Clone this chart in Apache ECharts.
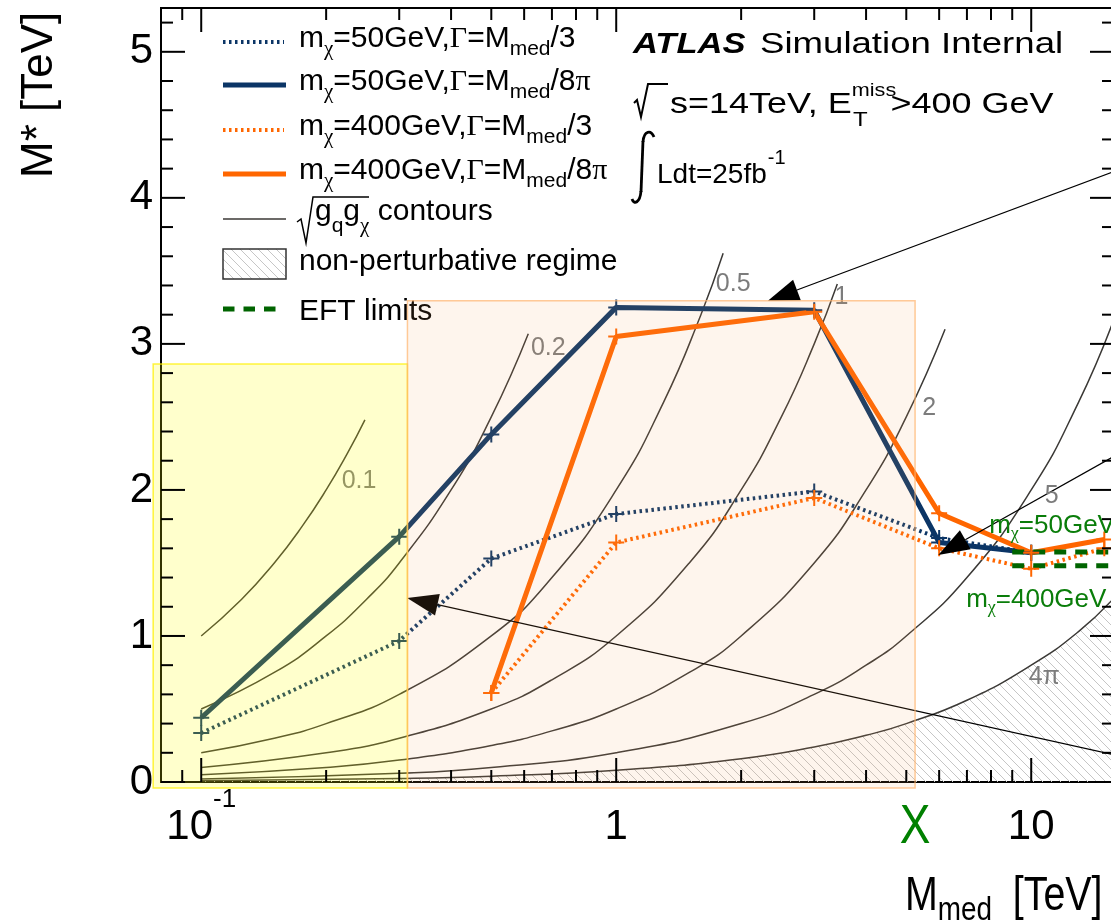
<!DOCTYPE html>
<html>
<head>
<meta charset="utf-8">
<title>M* vs M_med</title>
<script src="https://cdn.jsdelivr.net/npm/echarts@6/dist/echarts.min.js"></script>
<style>
  html, body { margin: 0; padding: 0; background: #fff; }
  #chart { width: 1111px; height: 922px; }
</style>
</head>
<body>
<div id="chart"></div>
<script>
// ---------------- data ----------------
// Mediator masses [TeV] of the simulated points
const massMedLight = [0.1, 0.3, 0.5, 1, 3, 6, 10];
const massMedHeavy = [0.5, 1, 3, 6, 10, 15];
// M* limits [TeV]
const mStarLightWide   = [0.335, 0.966, 1.53, 1.835, 1.99, 1.67, 1.57];   // mχ=50GeV,  Γ=Mmed/3
const mStarLightNarrow = [0.44, 1.68, 2.38, 3.25, 3.23, 1.64, 1.57];      // mχ=50GeV,  Γ=Mmed/8π
const mStarHeavyWide   = [0.61, 1.64, 1.945, 1.60, 1.46, 1.60];           // mχ=400GeV, Γ=Mmed/3
const mStarHeavyNarrow = [0.61, 3.05, 3.22, 1.84, 1.57, 1.66];            // mχ=400GeV, Γ=Mmed/8π

// EFT limits
const eftMass = [9.0, 15.83];
const eftLimitLight = [1.575, 1.575];
const eftLimitHeavy = [1.48, 1.48];
const eftLabelMass = [7.92, 6.97];
const eftLabelMStar = [1.705, 1.20];
const eftLabelDmMass = ['50', '400'];

// sqrt(gq gχ) contours
const couplingLabels = ['0.1', '0.2', '0.5', '1', '2', '5', '4π'];
const contourMass = [
  [0.1, 0.125, 0.15, 0.175, 0.2, 0.225, 0.248],
  [0.1, 0.15, 0.2, 0.25, 0.3, 0.4, 0.5, 0.614],
  [0.1, 0.15, 0.2, 0.3, 0.5, 0.7, 1, 1.3, 1.6, 1.81],
  [0.1, 0.2, 0.3, 0.5, 0.7, 1, 1.5, 2, 2.5, 3, 3.41],
  [0.1, 0.2, 0.3, 0.5, 0.7, 1, 1.5, 2, 3, 4, 5, 6.2],
  [0.1, 0.3, 0.5, 1, 2, 3, 4, 5, 7, 10, 13, 15.83],
  [0.1, 0.3, 0.5, 1, 2, 3, 4, 5, 7, 10, 13, 15.83]
];
const contourMStar = [
  [1.0, 1.25, 1.5, 1.75, 2.0, 2.25, 2.48],
  [0.5, 0.75, 1.0, 1.25, 1.5, 2.0, 2.5, 3.07],
  [0.2, 0.3, 0.4, 0.6, 1.0, 1.4, 2.0, 2.6, 3.2, 3.62],
  [0.1, 0.2, 0.3, 0.5, 0.7, 1, 1.5, 2, 2.5, 3, 3.41],
  [0.05, 0.1, 0.15, 0.25, 0.35, 0.5, 0.75, 1.0, 1.5, 2.0, 2.5, 3.1],
  [0.02, 0.06, 0.1, 0.2, 0.4, 0.6, 0.8, 1.0, 1.4, 2.0, 2.6, 3.17],
  [0.008, 0.024, 0.04, 0.08, 0.16, 0.24, 0.32, 0.40, 0.56, 0.80, 1.03, 1.26]
];
const contourLabelMass = [0.240, 0.686, 1.914, 3.49, 5.68, 11.2, 10.75];
const contourLabelMStar = [2.06, 2.97, 3.41, 3.32, 2.56, 1.96, 0.72];

// shaded regions: [Mmed low, M* low, Mmed high, M* high]
const regionLow = [0.0766, -0.041, 0.314, 2.863];
const regionMid = [0.314, -0.041, 5.25, 3.295];
const markXMass = 5.25;

// pointer arrows
const arrowTailMass = [15.83, 15.83, 15.83];
const arrowTailMStar = [4.18, 2.23, 0.186];
const arrowTipMass = [2.32, 5.97, 0.3135];
const arrowTipMStar = [3.295, 1.555, 1.26];

// axis ticks
const X_MIN = 0.08, X_MAX = 15.83, Y_MIN = 0, Y_MAX = 5.3;
const xMajorTicks = [0.1, 1, 10];
const xMinorTicks = [0.09, 0.2, 0.3, 0.4, 0.5, 0.6, 0.7, 0.8, 0.9, 2, 3, 4, 5, 6, 7, 8, 9];
const yMajorTicks = [0, 1, 2, 3, 4, 5];
const yMinorTicks = [0.2, 0.4, 0.6, 0.8, 1.2, 1.4, 1.6, 1.8, 2.2, 2.4, 2.6, 2.8,
                     3.2, 3.4, 3.6, 3.8, 4.2, 4.4, 4.6, 4.8, 5.2];

// ---------------- styling helpers ----------------
const BLUE = '#0b3566';
const ORANGE = '#ff6600';
const GREEN_LINE = '#006400';
const GREEN_TEXT = '#0a7d0a';
const SANS = "'Liberation Sans', Arial, Helvetica, sans-serif";
const SERIF = "'Liberation Serif', 'Times New Roman', serif";

const measureCtx = document.createElement('canvas').getContext('2d');

function hasFont(name) {
  const s = 'M10 [TeV] abc';
  measureCtx.font = '40px monospace';
  const w0 = measureCtx.measureText(s).width;
  measureCtx.font = `40px "${name}", monospace`;
  const w1 = measureCtx.measureText(s).width;
  return Math.abs(w0 - w1) > 0.5;
}
const NARROW = hasFont('Liberation Sans Narrow');
const NARROW_FAMILY = "'Liberation Sans Narrow', 'Liberation Sans', sans-serif";
const AXIS_FAMILY = NARROW ? NARROW_FAMILY : SANS;
const AXIS_SIZE = NARROW ? 48 : 42;
const TALL_SCALE = NARROW ? 1 : 0.82;   // horizontal squeeze when no condensed face exists

// Lays out a run of text pieces (sub/superscripts, mixed fonts) on a common baseline at y=0.
function buildRun(pieces, opt) {
  let x = 0;
  const kids = [];
  pieces.forEach(p => {
    const size = p.size || opt.size;
    const fam = p.family || opt.family;
    const font = `${p.italic ? 'italic ' : ''}${p.bold ? 'bold ' : ''}${size}px ${fam}`;
    measureCtx.font = font;
    measureCtx.textBaseline = 'middle';
    const toBase = measureCtx.measureText('H').actualBoundingBoxDescent;
    const w = measureCtx.measureText(p.t).width;
    kids.push({
      type: 'text', silent: true,
      x: x + (p.dx || 0), y: (p.dy || 0) - toBase,
      style: {
        text: p.t, font: font, fill: p.color || opt.color || '#000',
        align: 'left', verticalAlign: 'middle', textAlign: 'left', textVerticalAlign: 'middle'
      }
    });
    if (!p.stay) x += (p.dx || 0) + w;
  });
  measureCtx.textBaseline = 'alphabetic';
  return kids;
}

function hatchPattern() {
  const s = 9;
  const c = document.createElement('canvas');
  c.width = s; c.height = s;
  const g = c.getContext('2d');
  g.strokeStyle = '#c6c6c6';
  g.lineWidth = 1;
  g.beginPath();
  g.moveTo(-1, -1); g.lineTo(s + 1, s + 1);
  g.moveTo(-1, s - 1); g.lineTo(1, s + 1);
  g.moveTo(s - 1, -1); g.lineTo(s + 1, 1);
  g.stroke();
  return c;
}
const HATCH = { image: hatchPattern(), repeat: 'repeat' };

const PLUS = 'path://M-1,-8H1V-1H8V1H1V8H-1V1H-8V-1H-1Z';

function zip(xs, ys) { return xs.map((x, i) => [x, ys[i]]); }

// ---------------- series ----------------
const series = [];

contourMass.forEach((ms, i) => {
  const s = {
    type: 'line', name: 'contour ' + couplingLabels[i], z: 2, silent: true,
    data: zip(ms, contourMStar[i]), smooth: true, symbol: 'none',
    lineStyle: { color: '#3b3936', width: 1.5 }
  };
  if (i === contourMass.length - 1) {
    s.areaStyle = { color: HATCH, opacity: 1 };
  }
  series.push(s);
});

function dataLine(name, xs, ys, color, dotted) {
  return {
    type: 'line', name, z: 3, silent: true,
    data: zip(xs, ys),
    symbol: PLUS, symbolSize: 16, symbolKeepAspect: true,
    itemStyle: { color },
    lineStyle: dotted ? { color, width: 4, type: [2.5, 3.5], cap: 'butt' } : { color, width: 5 }
  };
}
series.push(dataLine('mchi50 wide', massMedLight, mStarLightWide, BLUE, true));
series.push(dataLine('mchi50 narrow', massMedLight, mStarLightNarrow, BLUE, false));
series.push(dataLine('mchi400 wide', massMedHeavy, mStarHeavyWide, ORANGE, true));
series.push(dataLine('mchi400 narrow', massMedHeavy, mStarHeavyNarrow, ORANGE, false));

[eftLimitLight, eftLimitHeavy].forEach((ys, i) => {
  series.push({
    type: 'line', name: 'EFT ' + i, z: 3, silent: true, symbol: 'none',
    data: zip(eftMass, ys),
    lineStyle: { color: GREEN_LINE, width: 5, type: [12, 9], cap: 'butt' }
  });
});

// arrows
series.push({
  type: 'custom', name: 'arrows', z: 4, silent: true,
  data: arrowTailMass.map((m, i) => [m, arrowTailMStar[i], arrowTipMass[i], arrowTipMStar[i]]),
  renderItem(params, api) {
    const p0 = api.coord([api.value(0), api.value(1)]);
    const p1 = api.coord([api.value(2), api.value(3)]);
    const ang = Math.atan2(p0[1] - p1[1], p0[0] - p1[0]);
    const L = 31, W = 11;
    const bx = p1[0] + L * Math.cos(ang), by = p1[1] + L * Math.sin(ang);
    const nx = -Math.sin(ang), ny = Math.cos(ang);
    return {
      type: 'group', children: [
        { type: 'line', shape: { x1: p0[0], y1: p0[1], x2: bx, y2: by }, style: { stroke: '#000', lineWidth: 1.2 } },
        { type: 'polygon', shape: { points: [p1, [bx + nx * W, by + ny * W], [bx - nx * W, by - ny * W]] }, style: { fill: '#000' } }
      ]
    };
  }
});

// contour labels
series.push({
  type: 'custom', name: 'contour labels', z: 4, silent: true,
  data: zip(contourLabelMass, contourLabelMStar),
  renderItem(params, api) {
    const p = api.coord([api.value(0), api.value(1)]);
    return {
      type: 'text', x: p[0], y: p[1], silent: true,
      style: { text: couplingLabels[params.dataIndex], font: `25px ${SANS}`, fill: '#7c7c7c',
               align: 'center', verticalAlign: 'middle', textAlign: 'center', textVerticalAlign: 'middle' }
    };
  }
});

// EFT labels
series.push({
  type: 'custom', name: 'eft labels', z: 4, silent: true,
  data: zip(eftLabelMass, eftLabelMStar),
  renderItem(params, api) {
    const p = api.coord([api.value(0), api.value(1)]);
    const kids = buildRun([
      { t: 'm' }, { t: 'χ', size: 18, dy: 6, family: SERIF },
      { t: '=' + eftLabelDmMass[params.dataIndex] + 'GeV' }
    ], { size: 26, family: SANS, color: GREEN_TEXT });
    return { type: 'group', x: p[0], y: p[1], children: kids };
  }
});

// mass marker below the axis
series.push({
  type: 'custom', name: 'mark X', z: 4, silent: true,
  data: [[markXMass, Y_MIN]],
  renderItem(params, api) {
    const p = api.coord([api.value(0), api.value(1)]);
    return {
      type: 'text', x: p[0], y: p[1] + 46, scaleX: TALL_SCALE, silent: true,
      style: { text: 'X', font: `56px ${NARROW ? NARROW_FAMILY : SANS}`, fill: '#008000',
               align: 'center', verticalAlign: 'middle', textAlign: 'center', textVerticalAlign: 'middle' }
    };
  }
});

// shaded regions (translucent, drawn over the curves)
series.push({
  type: 'custom', name: 'regions', z: 6, silent: true,
  data: [regionLow, regionMid],
  renderItem(params, api) {
    const a = api.coord([api.value(0), api.value(1)]);
    const b = api.coord([api.value(2), api.value(3)]);
    const low = params.dataIndex === 0;
    return {
      type: 'rect',
      shape: { x: a[0], y: b[1], width: b[0] - a[0], height: a[1] - b[1] },
      style: low
        ? { fill: 'rgba(255,255,0,0.20)', stroke: 'rgba(255,240,0,0.75)', lineWidth: 1.5 }
        : { fill: 'rgba(250,165,95,0.11)', stroke: 'rgba(255,180,110,0.7)', lineWidth: 1.5 }
    };
  }
});

// frame ticks on all four sides
series.push({
  type: 'custom', name: 'x ticks', z: 8, silent: true,
  data: xMajorTicks.map(v => [v, 1]).concat(xMinorTicks.map(v => [v, 0])),
  renderItem(params, api) {
    const v = api.value(0);
    const len = api.value(1) ? 24 : 12;
    const b = api.coord([v, Y_MIN]), t = api.coord([v, Y_MAX]);
    return {
      type: 'group', children: [
        { type: 'line', shape: { x1: b[0], y1: b[1], x2: b[0], y2: b[1] - len }, style: { stroke: '#000', lineWidth: 2 } },
        { type: 'line', shape: { x1: t[0], y1: t[1], x2: t[0], y2: t[1] + len }, style: { stroke: '#000', lineWidth: 2 } }
      ]
    };
  }
});
series.push({
  type: 'custom', name: 'y ticks', z: 8, silent: true,
  data: yMajorTicks.map(v => [X_MIN, v, 1]).concat(yMinorTicks.map(v => [X_MIN, v, 0])),
  renderItem(params, api) {
    const v = api.value(1);
    const len = api.value(2) ? 24 : 12;
    const l = api.coord([X_MIN, v]), r = api.coord([X_MAX, v]);
    return {
      type: 'group', children: [
        { type: 'line', shape: { x1: l[0], y1: l[1], x2: l[0] + len, y2: l[1] }, style: { stroke: '#000', lineWidth: 2 } },
        { type: 'line', shape: { x1: r[0], y1: r[1], x2: r[0] - len, y2: r[1] }, style: { stroke: '#000', lineWidth: 2 } }
      ]
    };
  }
});

// ---------------- legend, labels, titles ----------------
const LEG_X0 = 223, LEG_X1 = 286, LEG_TX = 299;
const legLineY = [42, 85, 130, 174, 219, 264, 309];
const legBase = [47, 90, 135, 179, 220, 270, 320];
const legendFont = { size: 30, family: SANS };

function modelPieces(mass, width) {
  const p = [
    { t: 'm' }, { t: 'χ', size: 21, dy: 8, family: SERIF },
    { t: '=' + mass + 'GeV,' }, { t: 'Γ', family: SERIF },
    { t: '=M' }, { t: 'med', size: 21, dy: 8 }
  ];
  if (width === '3') p.push({ t: '/3' });
  else { p.push({ t: '/8' }); p.push({ t: 'π', family: SERIF }); }
  return p;
}

const graphics = [];
function textGroup(x, y, pieces, opt, extra) {
  graphics.push(Object.assign({ type: 'group', x, y, silent: true, children: buildRun(pieces, opt) }, extra || {}));
}
function legendLine(i, color, width, dash) {
  graphics.push({
    type: 'line', silent: true,
    shape: { x1: LEG_X0, y1: legLineY[i], x2: dash === 'eft' ? 277 : (dash ? 284 : LEG_X1), y2: legLineY[i] },
    style: { stroke: color, lineWidth: width, lineDash: dash === 'eft' ? [11.5, 9] : (dash ? [2.5, 3.5] : null), lineCap: 'butt' }
  });
}

legendLine(0, BLUE, 4, true);
textGroup(LEG_TX, legBase[0], modelPieces('50', '3'), legendFont);
legendLine(1, BLUE, 5, false);
textGroup(LEG_TX, legBase[1], modelPieces('50', '8pi'), legendFont);
legendLine(2, ORANGE, 4, true);
textGroup(LEG_TX, legBase[2], modelPieces('400', '3'), legendFont);
legendLine(3, ORANGE, 5, false);
textGroup(LEG_TX, legBase[3], modelPieces('400', '8pi'), legendFont);
legendLine(4, '#3b3936', 1.5, false);
graphics.push({ type: 'polyline', silent: true,
  shape: { points: [[297, 222], [301, 219], [306, 243], [313, 197], [369, 197]] },
  style: { stroke: '#000', lineWidth: 1.5, fill: null } });
textGroup(315, legBase[4], [
  { t: 'g' }, { t: 'q', size: 21, dy: 12 }, { t: 'g' }, { t: 'χ', size: 21, dy: 12, family: SERIF },
  { t: ' contours' }
], legendFont);
graphics.push({ type: 'rect', silent: true, shape: { x: LEG_X0, y: 249, width: LEG_X1 - LEG_X0, height: 30 },
  style: { fill: HATCH, stroke: '#333', lineWidth: 1.5 } });
textGroup(LEG_TX, legBase[5], [{ t: 'non-perturbative regime' }], legendFont);
legendLine(6, GREEN_LINE, 5, 'eft');
textGroup(LEG_TX, legBase[6], [{ t: 'EFT limits' }], legendFont);

// experiment label
textGroup(633, 53, [{ t: 'ATLAS', bold: true, italic: true }], { size: 30, family: SANS }, { scaleX: 1.15 });
textGroup(760, 53, [{ t: 'Simulation Internal' }], { size: 30, family: SANS }, { scaleX: 1.22 });
graphics.push({ type: 'polyline', silent: true,
  shape: { points: [[634, 103], [637, 100], [641, 117], [648, 84], [668, 84]] },
  style: { stroke: '#000', lineWidth: 2, fill: null } });
textGroup(670, 113, [
  { t: 's=14TeV, E' },
  { t: 'miss', size: 18, dy: -17, stay: true },
  { t: 'T', size: 20, dy: 13, dx: 1 },
  { t: '>400 GeV', dx: 19 }
], { size: 30, family: SANS }, { scaleX: 1.2 });
// integral sign
graphics.push({ type: 'bezierCurve', silent: true,
  shape: { x1: 654, y1: 137, cpx1: 651, cpy1: 130, cpx2: 644, cpy2: 130, x2: 643, y2: 142 },
  style: { stroke: '#000', lineWidth: 2.8, fill: null } });
graphics.push({ type: 'line', silent: true,
  shape: { x1: 643, y1: 141, x2: 641, y2: 192 },
  style: { stroke: '#000', lineWidth: 2.8 } });
graphics.push({ type: 'bezierCurve', silent: true,
  shape: { x1: 641, y1: 191, cpx1: 640, cpy1: 203, cpx2: 634, cpy2: 205, x2: 632, y2: 199 },
  style: { stroke: '#000', lineWidth: 2.8, fill: null } });
textGroup(657, 183, [{ t: 'Ldt=25fb' }, { t: '-1', size: 20, dy: -19, dx: 1 }], { size: 28, family: SANS });

// axis titles
textGroup(905, 910, [
  { t: 'M' }, { t: 'med', size: 34, dy: 10 }, { t: ' [TeV]', dx: 12 }
], { size: 48, family: NARROW ? NARROW_FAMILY : SANS }, { scaleX: TALL_SCALE });
textGroup(52, 178, [{ t: 'M* [TeV]' }], { size: 44, family: SANS }, { rotation: Math.PI / 2 });

// ---------------- chart ----------------
const chart = echarts.init(document.getElementById('chart'), null, { renderer: 'canvas' });
chart.setOption({
  animation: false,
  backgroundColor: '#fff',
  grid: {
    left: 161, top: 8, width: 953, height: 774,
    show: true, borderColor: '#000', borderWidth: 2, backgroundColor: 'transparent',
    containLabel: false, outerBoundsMode: 'none'
  },
  xAxis: {
    type: 'log', logBase: 10, min: X_MIN, max: X_MAX,
    axisLine: { show: false }, axisTick: { show: false },
    splitLine: { show: false }, minorTick: { show: false }, minorSplitLine: { show: false },
    axisLabel: {
      margin: 5, showMinLabel: false, showMaxLabel: false, interval: 0,
      formatter(v) {
        const lg = Math.log10(v), e = Math.round(lg);
        if (Math.abs(lg - e) > 1e-6) return '';
        return e < 0 ? `{b|10}{s|${e}}` : `{b|${Math.round(Math.pow(10, e))}}`;
      },
      rich: {
        b: { fontSize: AXIS_SIZE, fontFamily: AXIS_FAMILY, lineHeight: 80, color: '#000' },
        s: { fontSize: 26, fontFamily: AXIS_FAMILY, lineHeight: 26, verticalAlign: 'top', color: '#000' }
      }
    }
  },
  yAxis: {
    type: 'value', min: Y_MIN, max: Y_MAX, interval: 1,
    axisLine: { show: false }, axisTick: { show: false },
    splitLine: { show: false },
    axisLabel: {
      margin: 8, showMaxLabel: false, color: '#000',
      fontSize: AXIS_SIZE, fontFamily: AXIS_FAMILY,
      formatter(v) { return Number.isInteger(v) ? String(v) : ''; }
    }
  },
  series: series,
  graphic: { elements: graphics }
});
</script>
</body>
</html>
